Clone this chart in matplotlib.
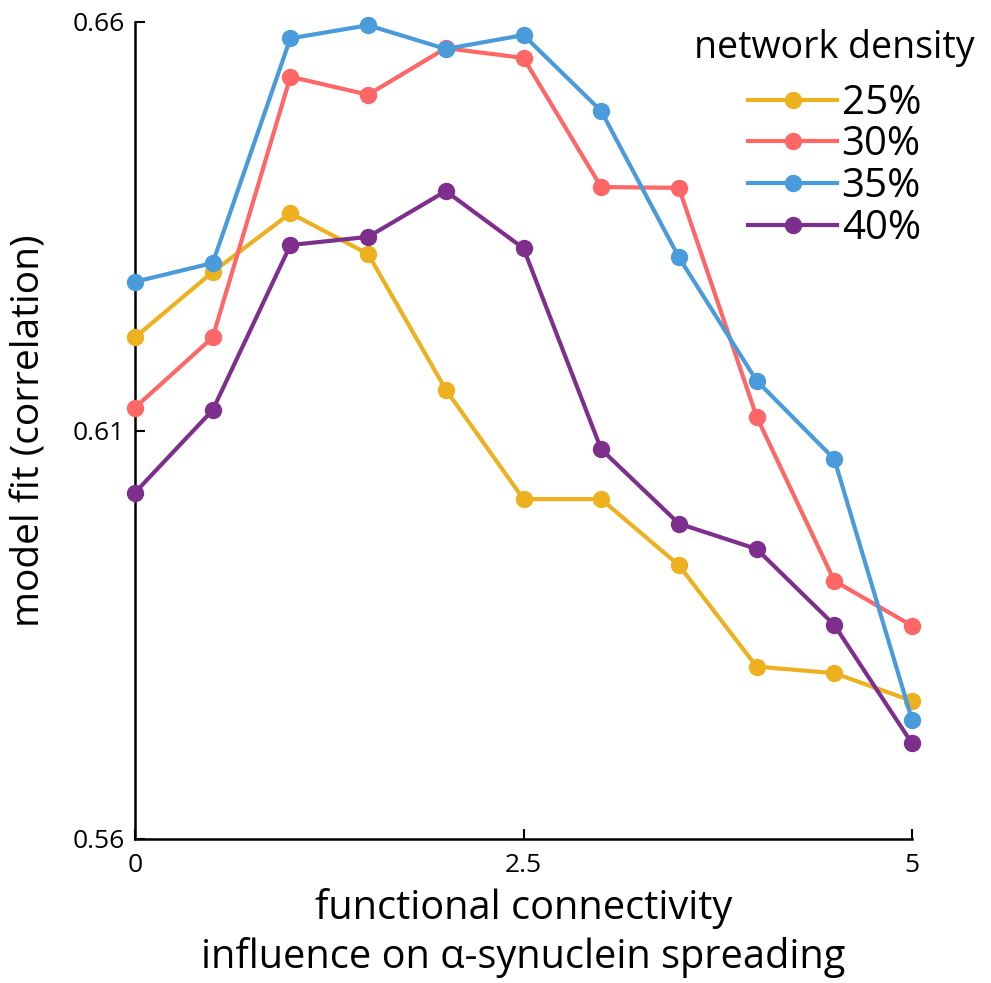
import matplotlib
matplotlib.use("Agg")
import matplotlib.pyplot as plt
import numpy as np

x = [0, 0.5, 1, 1.5, 2, 2.5, 3, 3.5, 4, 4.5, 5]
d25 = [0.6214, 0.6294, 0.6366, 0.6316, 0.6150, 0.6016, 0.6016, 0.5935, 0.5811, 0.5803, 0.5769]
d30 = [0.6128, 0.6214, 0.6533, 0.6511, 0.6568, 0.6556, 0.6398, 0.6397, 0.6117, 0.5916, 0.5861]
d35 = [0.6282, 0.6305, 0.6580, 0.6596, 0.6567, 0.6584, 0.6491, 0.6312, 0.6161, 0.6065, 0.5746]
d40 = [0.6024, 0.6125, 0.6327, 0.6337, 0.6393, 0.6323, 0.6077, 0.5986, 0.5955, 0.5862, 0.5717]
labels = ["25%", "30%", "35%", "40%"]
colors = ["#EDB120", "#FF6666", "#4A9BDB", "#7E2F8E"]
xticks = [0, 2.5, 5]
xticklabels = ["0", "2.5", "5"]
yticks = [0.56, 0.61, 0.66]
yticklabels = ["0.56", "0.61", "0.66"]

plt.rcParams['font.family'] = ['Open Sans', 'DejaVu Sans']

fig = plt.figure(figsize=(9.91, 9.83), dpi=100)
ax = fig.add_axes([135/991, 1-839/983, (912-135)/991, (839-22)/983])

for ys, lab, c in zip([d25, d30, d35, d40], labels, colors):
    ax.plot(x, ys, '-o', color=c, lw=3, ms=11.5, label=lab, clip_on=False, zorder=3)

ax.set_xlim(0, 5)
ax.set_ylim(0.56, 0.66)
ax.set_xticks(xticks)
ax.set_xticklabels(xticklabels)
ax.set_yticks(yticks)
ax.set_yticklabels(yticklabels)
for s in ['top', 'right']:
    ax.spines[s].set_visible(False)
for s in ['left', 'bottom']:
    ax.spines[s].set_linewidth(1.8)
ax.tick_params(direction='in', length=7, width=1.5, labelsize=19)
ax.tick_params(axis='y', pad=7)
ax.tick_params(axis='x', pad=10)

ax.set_xlabel("functional connectivity\ninfluence on α-synuclein spreading", fontsize=28.6, labelpad=7, linespacing=1.27)
ax.set_ylabel("model fit (correlation)", fontsize=28, labelpad=18)

leg = ax.legend(loc='upper right', bbox_to_anchor=(1.081, 0.992), title="network density",
                fontsize=29, title_fontsize=27, frameon=False, handlelength=2.2,
                labelspacing=0.03, handletextpad=0.12, borderaxespad=0, borderpad=0)
leg._legend_box.sep = 12

fig.savefig("out.png", dpi=100)
